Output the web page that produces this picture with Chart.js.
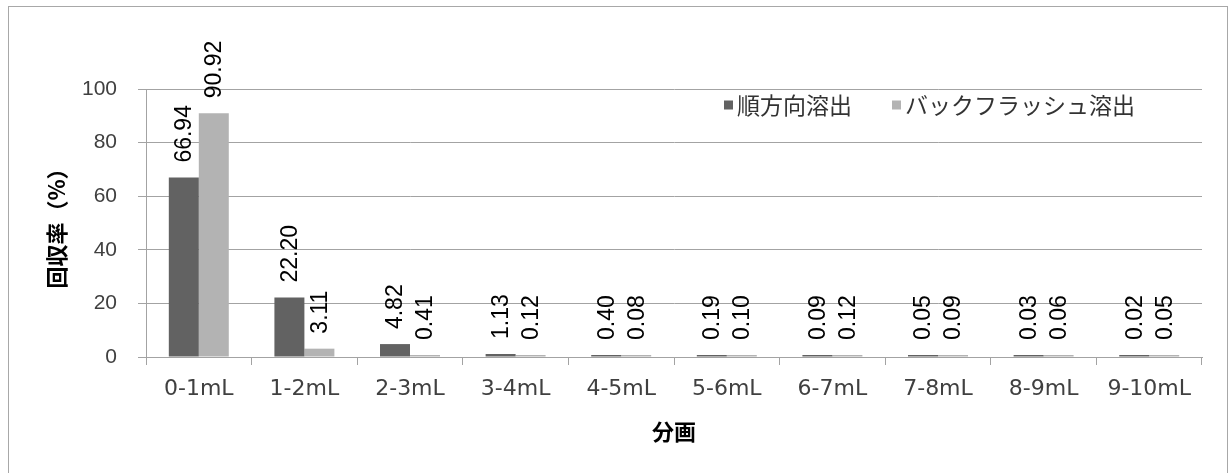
<!DOCTYPE html>
<html>
<head>
<meta charset="utf-8">
<script src="https://cdn.jsdelivr.net/npm/chart.js@4/dist/chart.umd.min.js"></script>
<style>
  html, body { margin: 0; padding: 0; background: #fff; }
  #wrap { width: 1229px; height: 473px; }
</style>
</head>
<body>
<div id="wrap"><canvas id="myChart" width="1229" height="473"></canvas></div>
<script>
var fractions = ['0-1mL', '1-2mL', '2-3mL', '3-4mL', '4-5mL', '5-6mL', '6-7mL', '7-8mL', '8-9mL', '9-10mL'];
var forwardElution = [66.94, 22.20, 4.82, 1.13, 0.40, 0.19, 0.09, 0.05, 0.03, 0.02];
var backflushElution = [90.92, 3.11, 0.41, 0.12, 0.08, 0.10, 0.12, 0.09, 0.06, 0.05];
var seriesNames = ['順方向溶出', 'バックフラッシュ溶出'];
var yTicks = [0, 20, 40, 60, 80, 100];

var latin = '"Liberation Sans", Arial, sans-serif';
var jp = '"Noto Sans CJK JP", sans-serif';
var gridGray = '#a3a3a3';

// white page with the thin outer frame
var frame = {
  id: 'frame',
  beforeDraw: function(chart) {
    var c = chart.ctx;
    c.save();
    c.fillStyle = '#fff';
    c.fillRect(0, 0, chart.width, chart.height);
    c.strokeStyle = '#a8a8a8';
    c.lineWidth = 1;
    c.strokeRect(8.5, 6.5, 1219, 480);
    c.restore();
  }
};

// vertical value labels above each bar
var barValues = {
  id: 'barValues',
  afterDatasetsDraw: function(chart) {
    var c = chart.ctx;
    var y = chart.scales.y;
    c.save();
    c.font = '23px ' + latin;
    c.fillStyle = '#000';
    c.textAlign = 'left';
    c.textBaseline = 'middle';
    chart.data.datasets.forEach(function(ds, i) {
      chart.getDatasetMeta(i).data.forEach(function(bar, j) {
        var top = Math.min(y.getPixelForValue(ds.data[j]), y.getPixelForValue(0) - 2);
        c.save();
        c.translate(bar.x + 1, top - 15);
        c.rotate(-Math.PI / 2);
        c.fillText(ds.data[j].toFixed(2), 0, 0);
        c.restore();
      });
    });
    c.restore();
  }
};

// legend inside the plot, top right
var innerLegend = {
  id: 'innerLegend',
  afterDraw: function(chart) {
    var c = chart.ctx;
    var x = 724, yMid = 105;
    c.save();
    c.font = '23px ' + jp;
    c.textBaseline = 'middle';
    c.textAlign = 'left';
    chart.data.datasets.forEach(function(ds) {
      c.fillStyle = ds.backgroundColor;
      c.fillRect(x, yMid - 4.5, 9, 9);
      c.fillStyle = '#333';
      c.fillText(ds.label, x + 13, yMid);
      x += 13 + c.measureText(ds.label).width + 40;
    });
    c.restore();
  }
};

var ctx = document.getElementById('myChart').getContext('2d');

var data = {
  labels: fractions,
  datasets: [
    {
      label: seriesNames[0],
      data: forwardElution,
      backgroundColor: '#626262',
      minBarLength: 2
    },
    {
      label: seriesNames[1],
      data: backflushElution,
      backgroundColor: '#b3b3b3',
      minBarLength: 2
    }
  ]
};

var options = {
  responsive: false,
  animation: false,
  events: [],
  layout: { padding: { top: 89, right: 27, left: 0, bottom: 0 } },
  datasets: {
    bar: { barPercentage: 1, categoryPercentage: 0.568, borderWidth: 0 }
  },
  plugins: {
    legend: { display: false },
    tooltip: { enabled: false }
  },
  scales: {
    x: {
      grid: { display: true, drawOnChartArea: false, drawTicks: true, tickLength: 8, offset: true, color: gridGray },
      border: { color: gridGray },
      ticks: { color: '#404040', padding: 11, font: { family: '"DejaVu Sans", sans-serif', size: 22 }, maxRotation: 0 },
      title: { display: true, text: '分画', color: '#000', padding: { top: 0, bottom: 28 }, font: { family: jp, size: 22, weight: 'bold' } },
      afterFit: function(scale) { scale.height = 116; }
    },
    y: {
      min: 0,
      max: 100,
      afterBuildTicks: function(scale) {
        scale.ticks = yTicks.map(function(v) { return { value: v }; });
      },
      grid: { color: gridGray, tickLength: 8 },
      border: { color: gridGray },
      ticks: { color: '#404040', padding: 21, font: { family: latin, size: 21 } },
      title: { display: true, text: '回収率（%）', color: '#000', padding: { top: 43, bottom: 0 }, font: { family: jp, size: 22, weight: 'bold' } },
      afterFit: function(scale) { scale.width = 146; }
    }
  }
};

var recoveryChart = new Chart(ctx, {
  type: 'bar',
  data: data,
  options: options,
  plugins: [frame, barValues, innerLegend]
});
</script>
</body>
</html>
